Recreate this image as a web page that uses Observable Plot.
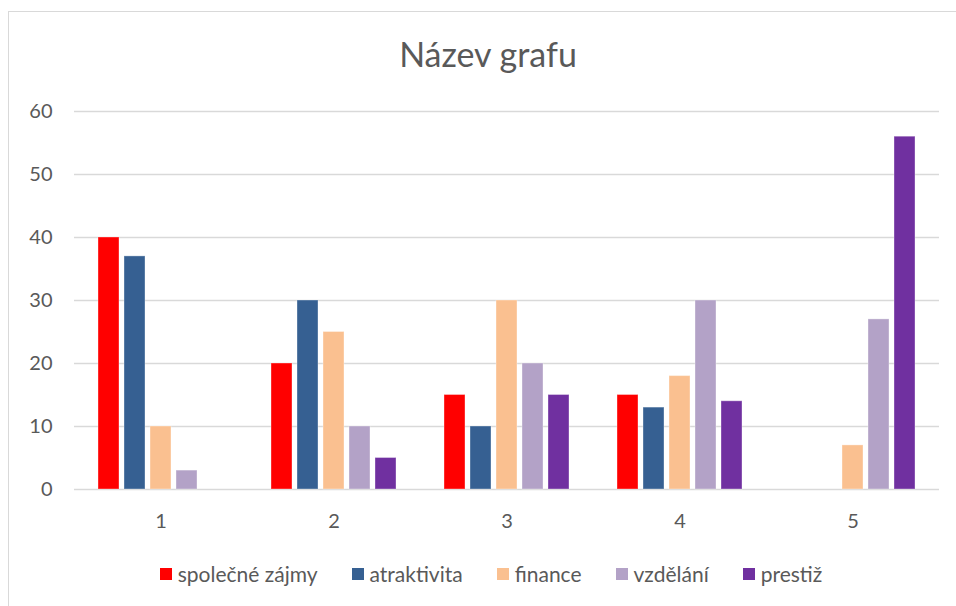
<!DOCTYPE html>
<html>
<head>
<meta charset="utf-8">
<script src="https://cdn.jsdelivr.net/npm/d3@7"></script>
<script src="https://cdn.jsdelivr.net/npm/@observablehq/plot@0.6"></script>
<style>
  html, body { margin: 0; padding: 0; background: #fff; }
  body { width: 956px; height: 606px; position: relative; overflow: hidden; font-family: Lato, "Open Sans", sans-serif; color: #595959; }
  #frame { position: absolute; left: 8px; top: 11px; width: 960px; height: 610px; border: 1.5px solid #d9d9d9; box-sizing: border-box; }
  #title { position: absolute; left: 0; width: 976px; top: 33px; text-align: center; font-size: 34px; color: #595959; }
  #chart { position: absolute; left: 0; top: 90px; }
  #legend { position: absolute; left: 0; width: 982px; top: 561px; display: flex; justify-content: center; gap: 34px; font-size: 21px; color: #595959; }
  .item { display: flex; align-items: center; gap: 6px; }
  .sw { width: 12px; height: 12px; display: inline-block; }
</style>
</head>
<body>
<div id="frame"></div>
<div id="title">Název grafu</div>
<div id="chart"></div>
<div id="legend"></div>
<script>
const groups = ["1", "2", "3", "4", "5"];
const series = ["společné zájmy", "atraktivita", "finance", "vzdělání", "prestiž"];
const colors = ["#FF0000", "#366092", "#FAC090", "#B3A2C7", "#7030A0"];
const spolecneZajmy = [40, 20, 15, 15, 0];
const atraktivita = [37, 30, 10, 13, 0];
const finance = [10, 25, 30, 18, 7];
const vzdelani = [3, 10, 20, 30, 27];
const prestiz = [0, 5, 15, 14, 56];
const yTicks = [0, 10, 20, 30, 40, 50, 60];

const seriesValues = [spolecneZajmy, atraktivita, finance, vzdelani, prestiz];
const data = [];
groups.forEach((g, i) => {
  series.forEach((s, j) => {
    data.push({group: g, series: s, value: seriesValues[j][i]});
  });
});

const chart = Plot.plot({
  width: 956,
  height: 460,
  marginLeft: 72,
  marginRight: 16,
  marginTop: 21,
  marginBottom: 61,
  style: {fontFamily: "Lato, 'Open Sans', sans-serif", fontSize: "20px", color: "#595959", background: "transparent"},
  fx: {domain: groups, padding: 0, label: null},
  x: {domain: series, paddingInner: 0.21, paddingOuter: 0.855, axis: null},
  y: {domain: [0, 60], ticks: yTicks, label: null},
  color: {domain: series, range: colors},
  marks: [
    Plot.gridY(yTicks, {stroke: "#d9d9d9", strokeOpacity: 1, strokeWidth: 1.5}),
    Plot.axisY(yTicks, {tickSize: 0, tickPadding: 22, fontSize: 20, fill: "#595959"}),
    Plot.axisFx({anchor: "bottom", tickSize: 0, tickPadding: 24, fontSize: 20, fill: "#595959", label: null}),
    Plot.barY(data.filter(d => d.value > 0), {fx: "group", x: "series", y: "value", fill: "series", stroke: "#ffffff", strokeOpacity: 0.35, strokeWidth: 1})
  ]
});
document.getElementById("chart").appendChild(chart);

const legend = document.getElementById("legend");
series.forEach((s, i) => {
  const item = document.createElement("div");
  item.className = "item";
  const sw = document.createElement("span");
  sw.className = "sw";
  sw.style.background = colors[i];
  const t = document.createElement("span");
  t.textContent = s;
  item.appendChild(sw);
  item.appendChild(t);
  legend.appendChild(item);
});
</script>
</body>
</html>
